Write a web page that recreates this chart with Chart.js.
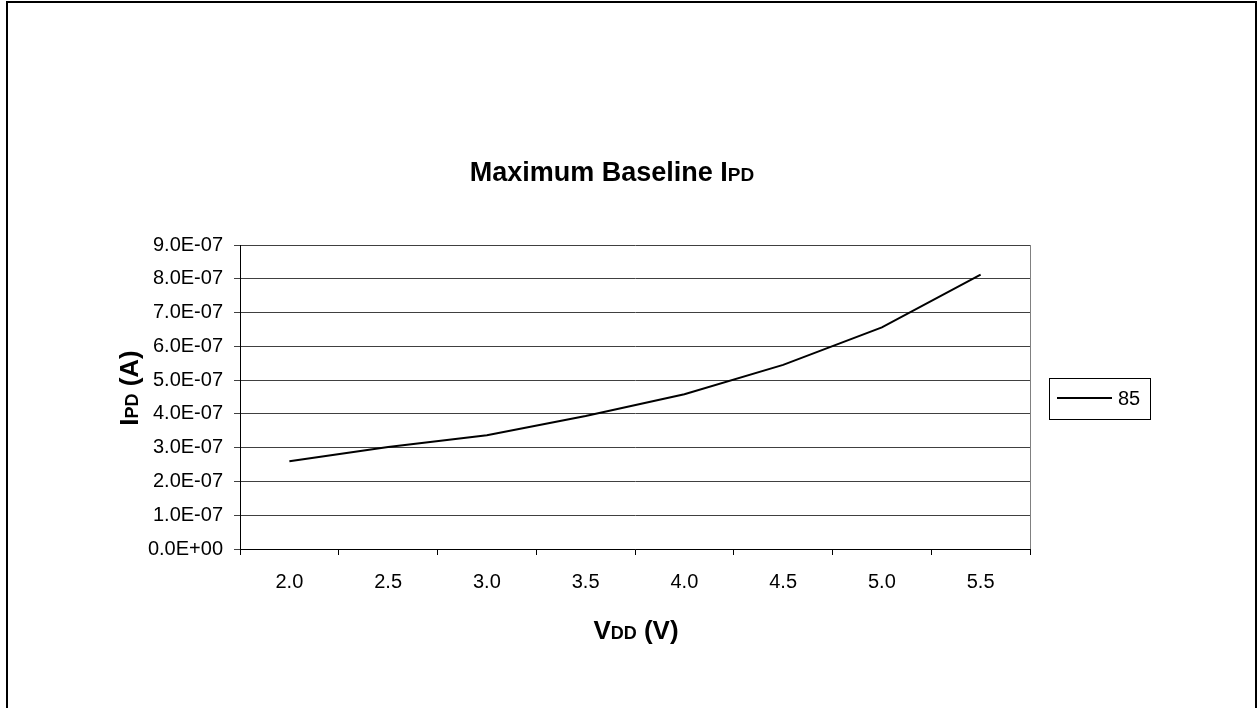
<!DOCTYPE html>
<html>
<head>
<meta charset="utf-8">
<title>Maximum Baseline IPD</title>
<script src="https://cdn.jsdelivr.net/npm/chart.js@4.4.1/dist/chart.umd.min.js"></script>
<style>
  html, body { margin: 0; padding: 0; background: #fff; }
  #wrap { width: 1258px; height: 708px; position: relative; }
</style>
</head>
<body>
<div id="wrap"><canvas id="grafico"></canvas></div>
<script>
// datos
const vdd = ['2.0', '2.5', '3.0', '3.5', '4.0', '4.5', '5.0', '5.5'];
const ipd85 = [2.6e-7, 3.02e-7, 3.37e-7, 3.94e-7, 4.58e-7, 5.45e-7, 6.56e-7, 8.12e-7];
const serie = '85';
const yMin = 0, yMax = 9e-7, yStep = 1e-7;

const fuente = "'Liberation Sans', Arial, sans-serif";

// formato tipo Excel: 9.0E-07
function sci(v) {
    if (Math.abs(v) < 1e-12) return '0.0E+00';
    const [m, e] = v.toExponential(1).split('e');
    const n = parseInt(e, 10);
    return m + 'E' + (n < 0 ? '-' : '+') + String(Math.abs(n)).padStart(2, '0');
}

// dibuja texto con partes de distinto tamano (subindices PD, DD)
function partes(ctx, trozos, cx, y) {
    let total = 0;
    trozos.forEach(t => { ctx.font = 'bold ' + t[1] + 'px ' + fuente; total += ctx.measureText(t[0]).width; });
    let x = cx - total / 2;
    trozos.forEach(t => {
        ctx.font = 'bold ' + t[1] + 'px ' + fuente;
        ctx.fillText(t[0], x, y);
        x += ctx.measureText(t[0]).width;
    });
}

const decorado = {
    id: 'decorado',
    afterDraw(chart) {
        const ctx = chart.ctx;
        const a = chart.chartArea;
        ctx.save();
        ctx.fillStyle = '#000';
        ctx.textAlign = 'left';
        ctx.textBaseline = 'alphabetic';

        // titulo
        partes(ctx, [['Maximum Baseline I', 27], ['PD', 19]], 612, 181);
        // titulo eje x
        partes(ctx, [['V', 26], ['DD', 18], [' (V)', 26]], 636, 639);
        // titulo eje y
        ctx.save();
        ctx.translate(138, 388);
        ctx.rotate(-Math.PI / 2);
        partes(ctx, [['I', 26], ['PD', 18], [' (A)', 26]], 0, 0);
        ctx.restore();

        // borde derecho del area
        ctx.strokeStyle = '#808080';
        ctx.lineWidth = 1;
        ctx.beginPath();
        ctx.moveTo(Math.round(a.right) + 0.5, a.top);
        ctx.lineTo(Math.round(a.right) + 0.5, a.bottom);
        ctx.stroke();

        // leyenda
        ctx.strokeStyle = '#000';
        ctx.lineWidth = 1;
        ctx.strokeRect(1049.5, 378.5, 101, 41);
        ctx.lineWidth = 2;
        ctx.beginPath();
        ctx.moveTo(1057, 398);
        ctx.lineTo(1112, 398);
        ctx.stroke();
        ctx.font = '20px ' + fuente;
        ctx.fillText(chart.data.datasets[0].label, 1118, 405);

        // marco exterior
        ctx.lineWidth = 2;
        ctx.strokeRect(7, 2, 1249, 720);
        ctx.restore();
    }
};

const grafico = new Chart(document.getElementById('grafico'), {
    type: 'line',
    data: {
        labels: vdd,
        datasets: [{
            label: serie,
            data: ipd85,
            borderColor: '#000',
            borderWidth: 2,
            pointRadius: 0,
            tension: 0,
            fill: false
        }]
    },
    options: {
        responsive: true,
        maintainAspectRatio: false,
        animation: false,
        layout: { padding: { left: 0, right: 228, top: 245, bottom: 0 } },
        plugins: {
            legend: { display: false },
            title: { display: false },
            tooltip: { enabled: false }
        },
        scales: {
            x: {
                type: 'category',
                offset: true,
                afterFit: s => { s.height = 159; },
                grid: { offset: true, drawOnChartArea: false, drawTicks: true, tickLength: 6, color: '#000' },
                border: { display: true, color: '#000', width: 1 },
                ticks: { color: '#000', padding: 15, font: { family: fuente, size: 20 }, maxRotation: 0 }
            },
            y: {
                min: yMin,
                max: yMax,
                afterFit: s => { s.width = 240; },
                grid: { drawOnChartArea: true, drawTicks: true, tickLength: 6, color: '#404040' },
                border: { display: true, color: '#000', width: 1 },
                ticks: {
                    stepSize: yStep,
                    color: '#000',
                    padding: 11,
                    font: { family: fuente, size: 20 },
                    callback: v => sci(v)
                }
            }
        }
    },
    plugins: [decorado]
});
</script>
</body>
</html>
